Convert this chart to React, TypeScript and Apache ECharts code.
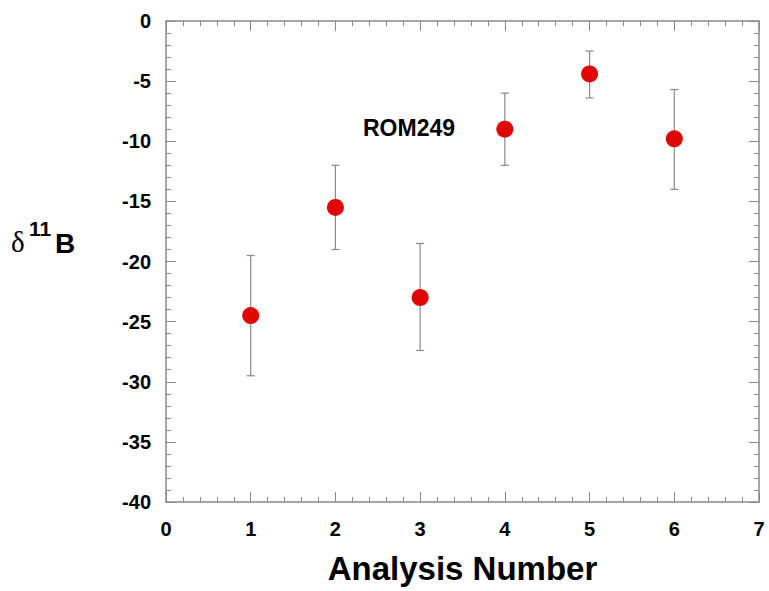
import React, { useEffect, useRef } from "react";
import * as echarts from "echarts";

const xValues = [1, 2, 3, 4, 5, 6];
const yValues = [-24.5, -15.5, -23, -9, -4.4, -9.8];
const errLow = [-29.5, -19, -27.4, -12, -6.4, -14];
const errHigh = [-19.5, -12, -18.5, -6, -2.5, -5.7];
const xTicks = [0, 1, 2, 3, 4, 5, 6, 7];
const yTicks = [0, -5, -10, -15, -20, -25, -30, -35, -40];

const FONT = "'Liberation Sans', Arial, sans-serif";
const SERIF = "'Liberation Serif', 'Times New Roman', serif";
const AXIS_COLOR = "#8a8a8a";

export default function App() {
  const ref = useRef<HTMLDivElement>(null);
  useEffect(() => {
    if (!ref.current) return;
    const chart = echarts.init(ref.current, undefined, { renderer: "svg" });
    const baseX = {
      type: "value",
      min: xTicks[0],
      max: xTicks[xTicks.length - 1],
      interval: 1,
      splitLine: { show: false },
      axisLine: { show: true, onZero: false, lineStyle: { color: AXIS_COLOR, width: 1.5 } },
      axisTick: { show: true, inside: true, length: 10, lineStyle: { color: AXIS_COLOR } },
      minorTick: { show: true, splitNumber: 5, length: 5, lineStyle: { color: AXIS_COLOR } },
    };
    const baseY = {
      type: "value",
      min: yTicks[yTicks.length - 1],
      max: yTicks[0],
      interval: 5,
      splitLine: { show: false },
      axisLine: { show: true, onZero: false, lineStyle: { color: AXIS_COLOR, width: 1.5 } },
      axisTick: { show: true, inside: true, length: 10, lineStyle: { color: AXIS_COLOR } },
      minorTick: { show: true, splitNumber: 5, length: 5, lineStyle: { color: AXIS_COLOR } },
    };
    chart.setOption({
      animation: false,
      backgroundColor: "#ffffff",
      grid: { left: 166, top: 21, right: 10, bottom: 89, containLabel: false },
      xAxis: [
        {
          ...baseX,
          position: "bottom",
          name: "Analysis Number",
          nameLocation: "middle",
          nameGap: 50,
          nameTextStyle: { fontFamily: FONT, fontWeight: "bold", fontSize: 33, color: "#000" },
          axisLabel: { show: true, margin: 17, fontFamily: FONT, fontWeight: "bold", fontSize: 20, color: "#000" },
        },
        { ...baseX, position: "top", axisLabel: { show: false } },
      ],
      yAxis: [
        {
          ...baseY,
          position: "left",
          axisLabel: { show: true, margin: 15, fontFamily: FONT, fontWeight: "bold", fontSize: 20, color: "#000" },
        },
        { ...baseY, position: "right", axisLabel: { show: false } },
      ],
      graphic: [
        {
          type: "text",
          x: 11,
          y: 227,
          style: { text: "δ", fontFamily: SERIF, fontSize: 29, fill: "#000", verticalAlign: "top" },
        },
        {
          type: "text",
          x: 29,
          y: 218,
          style: { text: "11", fontFamily: FONT, fontWeight: "bold", fontSize: 21, fill: "#000", verticalAlign: "top" },
        },
        {
          type: "text",
          x: 55,
          y: 229,
          style: { text: "B", fontFamily: FONT, fontWeight: "bold", fontSize: 28, fill: "#000", verticalAlign: "top" },
        },
        {
          type: "text",
          x: 363,
          y: 116,
          style: { text: "ROM249", fontFamily: FONT, fontWeight: "bold", fontSize: 23, fill: "#000", verticalAlign: "top" },
        },
      ],
      series: [
        {
          type: "custom",
          xAxisIndex: 0,
          yAxisIndex: 0,
          data: xValues.map((x, i) => [x, errLow[i], errHigh[i]]),
          renderItem: (params: any, api: any) => {
            const x = api.value(0);
            const lo = api.coord([x, api.value(1)]);
            const hi = api.coord([x, api.value(2)]);
            const cap = 4;
            const style = { stroke: "#8a8a8a", lineWidth: 1.2 };
            return {
              type: "group",
              children: [
                { type: "line", shape: { x1: lo[0], y1: lo[1], x2: hi[0], y2: hi[1] }, style },
                { type: "line", shape: { x1: lo[0] - cap, y1: lo[1], x2: lo[0] + cap, y2: lo[1] }, style },
                { type: "line", shape: { x1: hi[0] - cap, y1: hi[1], x2: hi[0] + cap, y2: hi[1] }, style },
              ],
            };
          },
          z: 1,
        },
        {
          type: "scatter",
          xAxisIndex: 0,
          yAxisIndex: 0,
          data: xValues.map((x, i) => [x, yValues[i]]),
          symbol: "circle",
          symbolSize: 17,
          itemStyle: { color: "#e00606", opacity: 1 },
          z: 2,
        },
      ],
    });
    return () => chart.dispose();
  }, []);
  return (
    <div
      ref={ref}
      style={{ position: "fixed", left: 0, top: 0, width: 769, height: 591, background: "#fff" }}
    />
  );
}
